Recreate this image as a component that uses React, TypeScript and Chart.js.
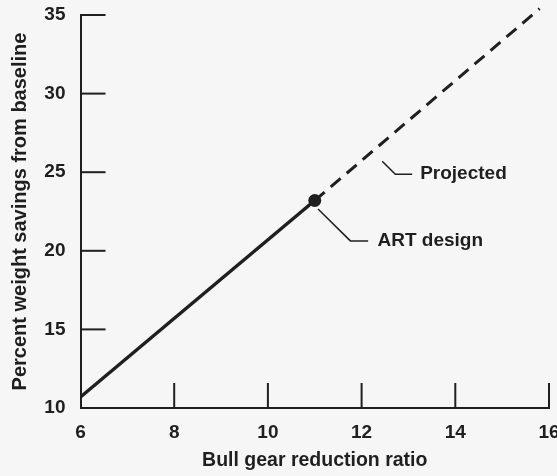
import { useEffect, useRef } from 'react';
import { Chart, registerables } from 'chart.js';

Chart.register(...registerables);

const xTicks = [6, 8, 10, 12, 14, 16];
const yTicks = [10, 15, 20, 25, 30, 35];
const builtX = [6, 11];
const builtY = [10.7, 23.2];
const projectedX = [11, 15.8];
const projectedY = [23.2, 35.4];
const designX = [11];
const designY = [23.2];
const labelTexts = ['Projected', 'ART design'];
const labelX = [13.25, 12.34];
const labelY = [24.87, 20.63];
const projLeaderX = [12.44, 12.72, 13.08];
const projLeaderY = [25.7, 24.87, 24.87];
const artLeaderX = [11.07, 11.76, 12.14];
const artLeaderY = [22.66, 20.63, 20.63];

const INK = '#1f1f1f';
const FONT = "'Liberation Sans', Arial, sans-serif";

const zip = (xs: number[], ys: number[]) => xs.map((x, i) => ({ x, y: ys[i] }));

const decorPlugin = {
  id: 'decor',
  beforeDraw(chart: any) {
    const { ctx, width, height } = chart;
    ctx.save();
    ctx.fillStyle = '#f6f6f6';
    ctx.fillRect(0, 0, width, height);
    ctx.restore();
  },
  afterDraw(chart: any) {
    const { ctx, chartArea, scales } = chart;
    const xs = scales.x;
    const ys = scales.y;
    ctx.save();
    ctx.strokeStyle = INK;
    ctx.lineWidth = 2;
    yTicks.slice(1).forEach((v) => {
      const py = ys.getPixelForValue(v);
      ctx.beginPath();
      ctx.moveTo(chartArea.left, py);
      ctx.lineTo(chartArea.left + 25, py);
      ctx.stroke();
    });
    xTicks.slice(1).forEach((v) => {
      const px = xs.getPixelForValue(v);
      ctx.beginPath();
      ctx.moveTo(px, chartArea.bottom);
      ctx.lineTo(px, chartArea.bottom - 25);
      ctx.stroke();
    });
    ctx.fillStyle = INK;
    ctx.font = `bold 19px ${FONT}`;
    ctx.textAlign = 'left';
    ctx.textBaseline = 'middle';
    labelTexts.forEach((t, i) => {
      ctx.fillText(t, xs.getPixelForValue(labelX[i]), ys.getPixelForValue(labelY[i]));
    });
    ctx.restore();
  },
};

export default function App() {
  const ref = useRef<HTMLCanvasElement | null>(null);
  useEffect(() => {
    document.body.style.margin = '0';
    const canvas = ref.current;
    if (!canvas) return;
    const chart = new Chart(canvas, {
      type: 'scatter',
      data: {
        datasets: [
          {
            data: zip(projectedX, projectedY),
            showLine: true,
            borderColor: INK,
            borderWidth: 3,
            borderDash: [13, 8],
            pointRadius: 0,
            clip: false,
          } as any,
          {
            data: zip(builtX, builtY),
            showLine: true,
            borderColor: INK,
            borderWidth: 3.5,
            pointRadius: 0,
          },
          {
            data: zip(projLeaderX, projLeaderY),
            showLine: true,
            borderColor: INK,
            borderWidth: 1.5,
            pointRadius: 0,
          },
          {
            data: zip(artLeaderX, artLeaderY),
            showLine: true,
            borderColor: INK,
            borderWidth: 1.5,
            pointRadius: 0,
          },
          {
            data: zip(designX, designY),
            pointRadius: 6.5,
            pointBackgroundColor: INK,
            pointBorderColor: INK,
            borderWidth: 0,
          },
        ],
      },
      options: {
        animation: false,
        responsive: false,
        maintainAspectRatio: false,
        layout: { padding: { top: 15, right: 8, left: 0, bottom: 0 } },
        plugins: { legend: { display: false }, tooltip: { enabled: false } },
        scales: {
          x: {
            type: 'linear',
            min: 6,
            max: 16,
            afterBuildTicks: (s: any) => {
              s.ticks = xTicks.map((v) => ({ value: v }));
            },
            afterFit: (s: any) => {
              s.height = 68;
              s.paddingLeft = 0;
              s.paddingRight = 0;
            },
            grid: { display: false, drawTicks: false },
            border: { display: true, color: INK, width: 2 },
            ticks: { color: INK, padding: 13, font: { family: FONT, size: 19, weight: 'bold' } },
            title: {
              display: true,
              text: 'Bull gear reduction ratio',
              color: INK,
              padding: { top: 4, bottom: 4 },
              font: { family: FONT, size: 19.5, weight: 'bold' },
            },
          },
          y: {
            type: 'linear',
            min: 10,
            max: 35,
            afterBuildTicks: (s: any) => {
              s.ticks = yTicks.map((v) => ({ value: v }));
            },
            afterFit: (s: any) => {
              s.width = 80.5;
              s.paddingTop = 0;
              s.paddingBottom = 0;
            },
            grid: { display: false, drawTicks: false },
            border: { display: true, color: INK, width: 2 },
            ticks: { color: INK, padding: 15, font: { family: FONT, size: 19, weight: 'bold' } },
            title: {
              display: true,
              text: 'Percent weight savings from baseline',
              color: INK,
              padding: { top: 8, bottom: 8 },
              font: { family: FONT, size: 20, weight: 'bold' },
            },
          },
        },
      } as any,
      plugins: [decorPlugin],
    });
    return () => chart.destroy();
  }, []);
  return (
    <div style={{ width: 557, height: 476 }}>
      <canvas ref={ref} width={557} height={476} style={{ display: 'block', width: 557, height: 476 }} />
    </div>
  );
}
